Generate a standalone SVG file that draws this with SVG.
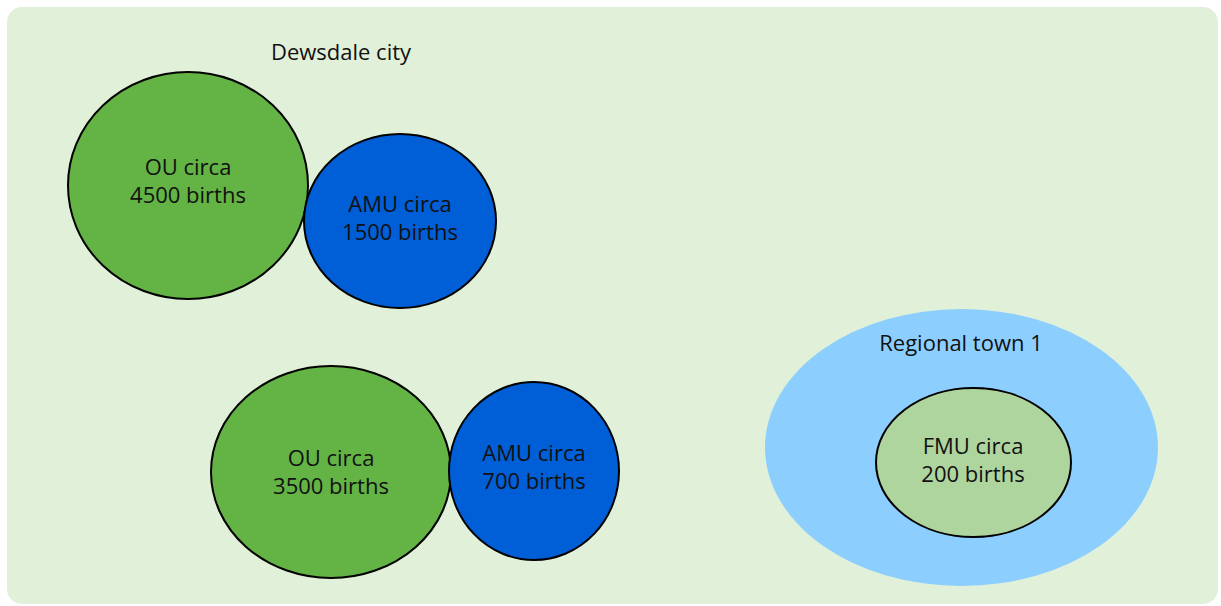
<svg xmlns="http://www.w3.org/2000/svg" width="1221" height="606" viewBox="0 0 1221 606">
<style>
text{font-family:"Open Sans","Noto Sans","Liberation Sans",sans-serif;font-size:22px;fill:#111;text-anchor:middle}
.st{stroke:#000;stroke-width:2}
</style>
<rect width="1221" height="606" fill="#ffffff"/>
<rect x="7" y="7" width="1211" height="597" rx="15" fill="#e1f0d9"/>
<g id="connectors"/>
<g id="dewsdale-label"><text x="341" y="60">Dewsdale city</text></g>
<g id="ou1"><ellipse class="st" cx="188" cy="185.5" rx="120" ry="113.5" fill="#63b345"/><text x="188" y="175">OU circa</text><text x="188" y="203">4500 births</text></g>
<g id="amu1"><ellipse class="st" cx="400" cy="221" rx="96" ry="87" fill="#005ed6"/><text x="400" y="212">AMU circa</text><text x="400" y="240">1500 births</text></g>
<g id="ou2"><ellipse class="st" cx="331" cy="472" rx="120" ry="106" fill="#63b345"/><text x="331" y="466">OU circa</text><text x="331" y="494">3500 births</text></g>
<g id="amu2"><ellipse class="st" cx="534" cy="471" rx="85" ry="89" fill="#005ed6"/><text x="534" y="461">AMU circa</text><text x="534" y="489">700 births</text></g>
<g id="regional"><ellipse cx="961.5" cy="447.5" rx="196.5" ry="138.5" fill="#8ccffe"/><text x="961" y="351">Regional town 1</text></g>
<g id="fmu"><ellipse class="st" cx="973.5" cy="462.5" rx="97.5" ry="74.5" fill="#afd59f"/><text x="973" y="454">FMU circa</text><text x="973" y="482">200 births</text></g>
</svg>
